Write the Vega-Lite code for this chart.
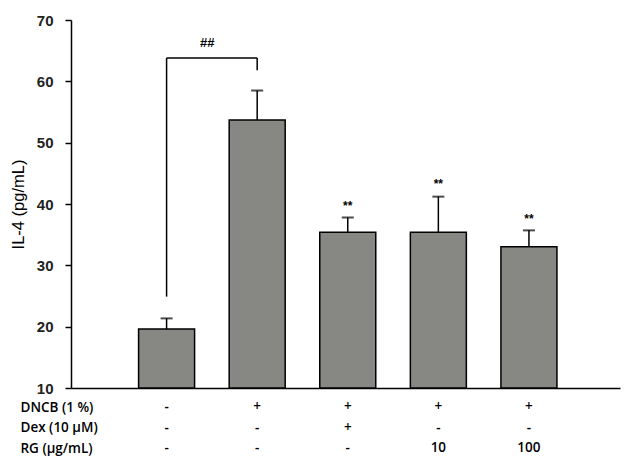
{
  "$schema": "https://vega.github.io/schema/vega-lite/v6.json",
  "width": 549,
  "height": 368,
  "autosize": "none",
  "padding": {"left": 71, "top": 20, "right": 12, "bottom": 72},
  "config": {"view": {"stroke": null}, "font": "Liberation Sans"},
  "datasets": {
    "bars": [
      {"g": 1, "v": 19.6, "u": 21.35},
      {"g": 2, "v": 53.7, "u": 58.5},
      {"g": 3, "v": 35.4, "u": 37.8},
      {"g": 4, "v": 35.4, "u": 41.2},
      {"g": 5, "v": 33.05, "u": 35.7}
    ],
    "stars": [
      {"g": 3, "sy": 39.6, "t": "**"},
      {"g": 4, "sy": 43.3, "t": "**"},
      {"g": 5, "sy": 37.6, "t": "**"}
    ],
    "bracket": [
      {"x": 1, "x2": 1, "y": 24.9, "y2": 63.8},
      {"x": 2, "x2": 2, "y": 61.8, "y2": 63.8},
      {"x": 1, "x2": 2, "y": 63.8, "y2": 63.8}
    ],
    "sig": [{"x": 1.45, "y": 66.3, "t": "##"}],
    "table": [
      {"row": "DNCB (1 %)", "g": 1, "t": "-"},
      {"row": "DNCB (1 %)", "g": 2, "t": "+"},
      {"row": "DNCB (1 %)", "g": 3, "t": "+"},
      {"row": "DNCB (1 %)", "g": 4, "t": "+"},
      {"row": "DNCB (1 %)", "g": 5, "t": "+"},
      {"row": "Dex (10 μM)", "g": 1, "t": "-"},
      {"row": "Dex (10 μM)", "g": 2, "t": "-"},
      {"row": "Dex (10 μM)", "g": 3, "t": "+"},
      {"row": "Dex (10 μM)", "g": 4, "t": "-"},
      {"row": "Dex (10 μM)", "g": 5, "t": "-"},
      {"row": "RG (μg/mL)", "g": 1, "t": "-"},
      {"row": "RG (μg/mL)", "g": 2, "t": "-"},
      {"row": "RG (μg/mL)", "g": 3, "t": "-"},
      {"row": "RG (μg/mL)", "g": 4, "t": "10"},
      {"row": "RG (μg/mL)", "g": 5, "t": "100"}
    ]
  },
  "layer": [
    {
      "layer": [
        {
          "data": {"name": "bars"},
          "mark": {"type": "bar", "size": 56, "fill": "#878783", "stroke": "black", "strokeWidth": 1.5},
          "encoding": {
            "x": {"field": "g", "type": "quantitative", "scale": {"domain": [0, 5.95], "nice": false, "zero": false},
              "axis": {"domain": true, "domainColor": "black", "domainWidth": 1.5, "ticks": false, "labels": false, "grid": false, "title": null}},
            "y": {"field": "v", "type": "quantitative", "scale": {"domain": [10, 70], "nice": false, "zero": false},
              "axis": {"values": [10, 20, 30, 40, 50, 60, 70], "grid": false, "domainColor": "black", "domainWidth": 1.5, "tickColor": "black", "tickWidth": 1.5, "tickSize": 6, "labelFont": "Liberation Sans", "labelFontWeight": "bold", "labelFontSize": 15, "labelColor": "#222222", "labelPadding": 12, "title": "IL-4 (pg/mL)", "titleFont": "Liberation Sans", "titleFontWeight": "normal", "titleFontSize": 16.5, "titleColor": "black", "titlePadding": 10}},
            "y2": {"datum": 10}
          }
        },
        {
          "data": {"name": "bars"},
          "mark": {"type": "rule", "stroke": "black", "strokeWidth": 1.5},
          "encoding": {
            "x": {"field": "g", "type": "quantitative"},
            "y": {"field": "v", "type": "quantitative"},
            "y2": {"field": "u"}
          }
        },
        {
          "data": {"name": "bars"},
          "mark": {"type": "tick", "orient": "horizontal", "size": 12, "thickness": 2, "color": "black"},
          "encoding": {
            "x": {"field": "g", "type": "quantitative"},
            "y": {"field": "u", "type": "quantitative"}
          }
        },
        {
          "data": {"name": "stars"},
          "mark": {"type": "text", "font": "Liberation Sans", "fontWeight": "bold", "fontSize": 12, "baseline": "middle", "align": "center", "color": "black"},
          "encoding": {
            "x": {"field": "g", "type": "quantitative"},
            "y": {"field": "sy", "type": "quantitative"},
            "text": {"field": "t"}
          }
        },
        {
          "data": {"name": "bracket"},
          "mark": {"type": "rule", "stroke": "black", "strokeWidth": 1.5},
          "encoding": {
            "x": {"field": "x", "type": "quantitative"},
            "x2": {"field": "x2"},
            "y": {"field": "y", "type": "quantitative"},
            "y2": {"field": "y2"}
          }
        },
        {
          "data": {"name": "sig"},
          "mark": {"type": "text", "font": "Liberation Sans", "fontWeight": "bold", "fontSize": 13, "baseline": "middle", "align": "center", "color": "black"},
          "encoding": {
            "x": {"field": "x", "type": "quantitative"},
            "y": {"field": "y", "type": "quantitative"},
            "text": {"field": "t"}
          }
        }
      ]
    },
    {
      "data": {"name": "table"},
      "mark": {"type": "text", "font": "Open Sans", "fontWeight": 600, "fontSize": 13.5, "baseline": "middle", "align": "center", "color": "black"},
      "encoding": {
        "x": {"field": "g", "type": "quantitative"},
        "y": {"field": "row", "type": "ordinal", "sort": ["DNCB (1 %)", "Dex (10 μM)", "RG (μg/mL)"], "scale": {"type": "point", "range": [387, 428], "padding": 0},
          "axis": {"orient": "left", "domain": false, "ticks": false, "grid": false, "title": null, "labelAlign": "left", "labelBaseline": "middle", "labelPadding": 51, "labelFont": "Open Sans", "labelFontWeight": 600, "labelFontSize": 13.5, "labelColor": "black"}},
        "text": {"field": "t"}
      }
    }
  ],
  "resolve": {"scale": {"y": "independent"}}
}
